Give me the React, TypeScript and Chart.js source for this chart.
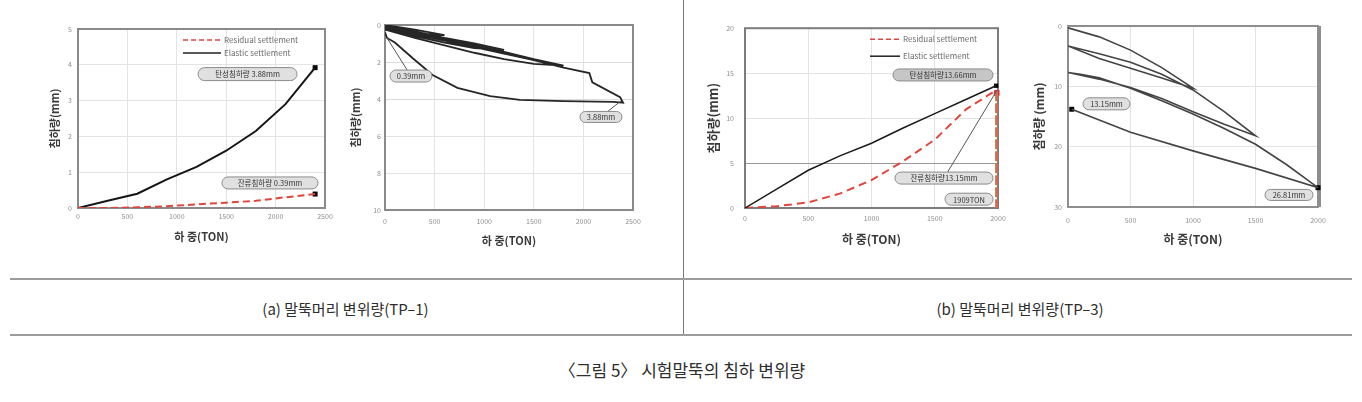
import React, { useEffect, useRef } from "react";
import { Chart, registerables } from "chart.js";

Chart.register(...registerables);

const FONT = "'Noto Sans CJK KR', 'Noto Sans', sans-serif";
Chart.defaults.font.family = FONT;

// ===== (a) TP-1 : elastic / residual settlement =====
const tp1Load = [0, 300, 600, 900, 1200, 1500, 1800, 2100, 2400];
const tp1Elastic = [0, 0.2, 0.4, 0.8, 1.15, 1.6, 2.15, 2.9, 3.92];
const tp1Residual = [0, 0, 0.02, 0.05, 0.1, 0.15, 0.2, 0.3, 0.39];
const tp1MarkLoad = [2400, 2400];
const tp1MarkVal = [3.92, 0.39];

// ===== (a) TP-1 : load-settlement cycles =====
const tp1CycLoad = [
  0, 300, 600, 300, 0,
  300, 600, 900, 1200, 900, 600, 300, 0,
  300, 600, 900, 1200, 1500, 1800, 1500, 1200, 900, 600, 300, 0,
  300, 600, 900, 1200, 1500, 1800, 2060, 2090, 2370, 2400,
  2300, 1800, 1360, 1060, 730, 480, 280, 100, 20, 0,
];
const tp1CycSettle = [
  0, 0.25, 0.55, 0.45, 0.1,
  0.35, 0.7, 1.0, 1.35, 1.25, 0.95, 0.6, 0.15,
  0.4, 0.75, 1.1, 1.45, 1.85, 2.2, 2.1, 1.85, 1.5, 1.1, 0.7, 0.25,
  0.5, 0.85, 1.2, 1.55, 1.9, 2.3, 2.6, 3.1, 3.9, 4.2,
  4.15, 4.12, 4.05, 3.85, 3.4, 2.7, 1.8, 0.95, 0.7, 0.39,
];

// ===== (b) TP-3 : elastic / residual settlement =====
const tp3Load = [0, 250, 500, 750, 1000, 1250, 1500, 1750, 1985];
const tp3Elastic = [0, 2.1, 4.2, 5.8, 7.2, 8.9, 10.5, 12.1, 13.6];
const tp3Residual = [0, 0.2, 0.62, 1.6, 3.1, 5.2, 7.6, 11.0, 13.1];
const tp3DropLoad = [1993, 1993];
const tp3DropVal = [13.0, 0];
const tp3MarkLoad = [1985];
const tp3MarkVal = [13.6];
const tp3RedMarkLoad = [1990];
const tp3RedMarkVal = [12.8];

// ===== (b) TP-3 : load-settlement cycles =====
const tp3CycLoad = [
  0, 250, 500, 750, 1000,
  750, 500, 250, 0,
  250, 500, 750, 1000, 1250, 1500,
  1250, 1000, 750, 500, 250, 0,
  100, 250, 500, 750, 1000, 1250, 1500, 1750, 2000,
  1500, 1000, 500, 30,
];
const tp3CycSettle = [
  0.3, 1.8, 4.0, 6.9, 10.3,
  8.6, 7.0, 5.4, 3.3,
  4.6, 6.0, 8.0, 10.6, 14.2, 18.2,
  16.3, 14.2, 12.0, 10.2, 8.8, 7.7,
  8.0, 8.6, 10.3, 12.4, 14.6, 17.0, 19.6, 23.0, 26.8,
  23.6, 20.7, 17.6, 13.8,
];
const tp3CycMarkLoad = [30, 2000];
const tp3CycMarkVal = [13.8, 26.8];

const xTitle = "하 중(TON)";

function pts(xs: number[], ys: number[]) {
  return xs.map((x, i) => ({ x, y: ys[i] }));
}

type Geo = { l: number; t: number; r: number; b: number; L: number; T: number; R: number; B: number };

function makeDecorPlugin(o: any) {
  return {
    id: "decor",
    beforeDatasetsDraw(chart: any) {
      const { ctx, chartArea: a } = chart;
      if (!o.frame) return;
      ctx.save();
      ctx.strokeStyle = o.frame.color;
      ctx.lineWidth = o.frame.width;
      ctx.strokeRect(a.left, a.top, a.right - a.left, a.bottom - a.top);
      if (o.frame.right) {
        ctx.lineWidth = o.frame.right;
        ctx.beginPath();
        ctx.moveTo(a.right + o.frame.right / 2 - 1, a.top);
        ctx.lineTo(a.right + o.frame.right / 2 - 1, a.bottom);
        ctx.stroke();
      }
      ctx.restore();
    },
    afterDatasetsDraw(chart: any) {
      const { ctx, chartArea: a } = chart;
      const xs = chart.scales.x;
      const ys = chart.scales.y;
      ctx.save();
      if (o.legend) {
        const L = o.legend;
        L.items.forEach((it: any, i: number) => {
          const y = a.top + L.top + i * L.gap;
          const x0 = a.right - L.right;
          ctx.strokeStyle = it.color;
          ctx.lineWidth = it.width;
          ctx.setLineDash(it.dash || []);
          ctx.beginPath();
          ctx.moveTo(x0, y);
          ctx.lineTo(x0 + L.len, y);
          ctx.stroke();
          ctx.setLineDash([]);
          ctx.fillStyle = "#6a6a6a";
          ctx.font = `${L.size}px ${FONT}`;
          ctx.textBaseline = "middle";
          ctx.textAlign = "left";
          ctx.fillText(it.text, x0 + L.len + 3, y);
        });
      }
      (o.notes || []).forEach((n: any) => {
        const cx = xs.getPixelForValue(n.x);
        const cy = ys.getPixelForValue(n.y);
        if (n.tx !== undefined) {
          ctx.strokeStyle = "#555";
          ctx.lineWidth = 1;
          ctx.setLineDash([]);
          ctx.beginPath();
          ctx.moveTo(cx, cy);
          ctx.lineTo(xs.getPixelForValue(n.tx), ys.getPixelForValue(n.ty));
          ctx.stroke();
        }
        const x = cx - n.w / 2;
        const y = cy - n.h / 2;
        ctx.beginPath();
        if ((ctx as any).roundRect) (ctx as any).roundRect(x, y, n.w, n.h, n.h / 2);
        else ctx.rect(x, y, n.w, n.h);
        ctx.fillStyle = n.bg || "#e0e0e0";
        ctx.fill();
        ctx.strokeStyle = "#8c8c8c";
        ctx.lineWidth = 1;
        ctx.stroke();
        ctx.fillStyle = "#333";
        ctx.font = `${n.fs || 7.5}px ${FONT}`;
        ctx.textAlign = "center";
        ctx.textBaseline = "middle";
        ctx.fillText(n.text, cx, cy + 0.5);
      });
      ctx.restore();
    },
  };
}

type AxisSpec = {
  min: number;
  max: number;
  step: number;
  reverse?: boolean;
  title: string;
  titleSize: number;
  tickPad: number;
  strong?: number[];
  strongColor?: string;
};

function axis(s: AxisSpec, kind: "x" | "y", size: number) {
  return {
    type: "linear",
    position: kind === "x" ? "bottom" : "left",
    min: s.min,
    max: s.max,
    reverse: !!s.reverse,
    afterFit: (scale: any) => {
      if (kind === "x") scale.height = size;
      else scale.width = size;
    },
    ticks: {
      stepSize: s.step,
      autoSkip: false,
      maxRotation: 0,
      padding: s.tickPad,
      color: "#8f8f8f",
      font: { size: 7, family: FONT },
      callback: (v: any) => String(v),
    },
    grid: {
      drawTicks: false,
      color: (c: any) => {
        const v = c.tick ? c.tick.value : null;
        if (s.strong && s.strong.indexOf(v) >= 0) return s.strongColor || "#999";
        return "#e3e3e3";
      },
      lineWidth: 1,
    },
    border: { display: false },
    title: {
      display: true,
      text: s.title,
      color: "#3a3a3a",
      padding: 0,
      font: { size: s.titleSize, weight: "bold", family: FONT },
    },
  };
}

function makeConfig(geo: Geo, xs: AxisSpec, ys: AxisSpec, datasets: any[], decor: any) {
  return {
    type: "scatter",
    data: { datasets },
    options: {
      responsive: false,
      maintainAspectRatio: false,
      animation: false,
      events: [],
      layout: { padding: { left: 0, top: geo.T - geo.t, right: geo.r - geo.R, bottom: 0 } },
      plugins: { legend: { display: false }, tooltip: { enabled: false } },
      scales: {
        x: axis(xs, "x", geo.b - geo.B),
        y: axis(ys, "y", geo.L - geo.l),
      },
    },
    plugins: [makeDecorPlugin(decor)],
  };
}

function lineDs(data: any[], color: string, width: number, dash: number[] = []) {
  return {
    data,
    showLine: true,
    borderColor: color,
    borderWidth: width,
    borderDash: dash,
    pointRadius: 0,
    fill: false,
    tension: 0,
  };
}

function markDs(data: any[], color: string, r = 3.5) {
  return {
    data,
    showLine: false,
    pointStyle: "rect",
    pointRadius: r,
    backgroundColor: color,
    borderColor: color,
    borderWidth: 0,
    clip: false,
  };
}

const G1: Geo = { l: 48, t: 17, r: 340, b: 243, L: 78, T: 29, R: 325, B: 208 };
const G2: Geo = { l: 349, t: 13, r: 648, b: 247, L: 385, T: 25, R: 633, B: 210 };
const G3: Geo = { l: 705, t: 13, r: 1012, b: 247, L: 745, T: 25, R: 998, B: 208 };
const G4: Geo = { l: 1032, t: 14, r: 1335, b: 247, L: 1068, T: 26, R: 1318, B: 207 };

function buildConfig(index: number) {
  if (index === 0)
    return makeConfig(
      G1,
      { min: 0, max: 2500, step: 500, title: xTitle, titleSize: 11, tickPad: 4 },
      { min: 0, max: 5, step: 1, title: "침하량(mm)", titleSize: 11, tickPad: 6 },
      [
        lineDs(pts(tp1Load, tp1Residual), "#e2453c", 2, [7, 4]),
        lineDs(pts(tp1Load, tp1Elastic), "#151515", 2),
        markDs(pts(tp1MarkLoad, tp1MarkVal), "#000", 3.5),
      ],
      {
        frame: { color: "#8a8a8a", width: 2 },
        legend: {
          top: 11,
          gap: 13,
          right: 142,
          len: 38,
          size: 8,
          items: [
            { text: "Residual settlement", color: "#e2453c", width: 1.5, dash: [5, 3] },
            { text: "Elastic settlement", color: "#222", width: 1.5 },
          ],
        },
        notes: [
          { x: 1716, y: 3.74, text: "탄성침하량 3.88mm", w: 99, h: 13 },
          { x: 1943, y: 0.7, text: "잔류침하량 0.39mm", w: 96, h: 12 },
        ],
      }
    );
  if (index === 1)
    return makeConfig(
      G2,
      { min: 0, max: 2500, step: 500, title: xTitle, titleSize: 11, tickPad: 7 },
      { min: 0, max: 10, step: 2, reverse: true, title: "침하량(mm)", titleSize: 11, tickPad: 4, strong: [2, 4], strongColor: "#dcdcdc" },
      [lineDs(pts(tp1CycLoad, tp1CycSettle), "#262626", 1.8)],
      {
        frame: { color: "#8a8a8a", width: 2 },
        notes: [
          { x: 262, y: 2.76, text: "0.39mm", w: 42, h: 12, tx: 20, ty: 0.7 },
          { x: 2177, y: 4.97, text: "3.88mm", w: 42, h: 11, tx: 2379, ty: 4.1 },
        ],
      }
    );
  if (index === 2)
    return makeConfig(
      G3,
      { min: 0, max: 2000, step: 500, title: xTitle, titleSize: 12, tickPad: 6 },
      { min: 0, max: 20, step: 5, title: "침하량(mm)", titleSize: 13, tickPad: 11, strong: [5], strongColor: "#9a9a9a" },
      [
        lineDs(pts(tp3Load, tp3Elastic), "#1a1a1a", 1.5),
        lineDs(pts(tp3Load, tp3Residual), "#e2453c", 2, [8, 5]),
        lineDs(pts(tp3DropLoad, tp3DropVal), "#cf6d4e", 4, [10, 2]),
        markDs(pts(tp3RedMarkLoad, tp3RedMarkVal), "#d8323a", 4),
        markDs(pts(tp3MarkLoad, tp3MarkVal), "#000", 3),
      ],
      {
        frame: { color: "#7c7c7c", width: 2 },
        legend: {
          top: 11,
          gap: 17,
          right: 128,
          len: 30,
          size: 8,
          items: [
            { text: "Residual settlement", color: "#e2453c", width: 1.5, dash: [5, 3] },
            { text: "Elastic settlement", color: "#222", width: 1.5 },
          ],
        },
        notes: [
          { x: 1565, y: 14.8, text: "탄성침하량13.66mm", w: 100, h: 12, bg: "#c6c6c6" },
          { x: 1573, y: 3.33, text: "잔류침하량13.15mm", w: 98, h: 12, tx: 1992, ty: 13.1 },
          { x: 1771, y: 0.98, text: "1909TON", w: 48, h: 12 },
        ],
      }
    );
  return makeConfig(
    G4,
    { min: 0, max: 2000, step: 500, title: xTitle, titleSize: 12, tickPad: 9 },
    { min: 0, max: 30, step: 10, reverse: true, title: "침하량 (mm)", titleSize: 12, tickPad: 6 },
    [
      lineDs(pts(tp3CycLoad, tp3CycSettle), "#444", 1.6),
      markDs(pts(tp3CycMarkLoad, tp3CycMarkVal), "#000", 3.5),
    ],
    {
      frame: { color: "#8e8e8e", width: 2, right: 4 },
      notes: [
        { x: 308, y: 12.9, text: "13.15mm", w: 47, h: 12 },
        { x: 1768, y: 28.0, text: "26.81mm", w: 48, h: 11 },
      ],
    }
  );
}

function ChartBox({ geo, index }: { geo: Geo; index: number }) {
  const ref = useRef<HTMLCanvasElement | null>(null);
  useEffect(() => {
    if (!ref.current) return;
    const chart = new Chart(ref.current, buildConfig(index) as any);
    return () => chart.destroy();
  }, [index]);
  const w = geo.r - geo.l;
  const h = geo.b - geo.t;
  return (
    <canvas
      ref={ref}
      width={w}
      height={h}
      style={{ position: "absolute", left: geo.l, top: geo.t, width: w, height: h }}
    />
  );
}

function Label({ cx, cy, size, children }: { cx: number; cy: number; size: number; children: any }) {
  return (
    <div
      style={{
        position: "absolute",
        left: cx - 250,
        top: cy - 12,
        width: 500,
        height: 24,
        lineHeight: "24px",
        textAlign: "center",
        fontSize: size,
        color: "#2e2e2e",
        fontFamily: FONT,
        whiteSpace: "nowrap",
      }}
    >
      {children}
    </div>
  );
}

export default function App() {
  return (
    <div
      style={{
        position: "absolute",
        left: 0,
        top: 0,
        width: 1362,
        height: 402,
        background: "#fff",
        overflow: "hidden",
      }}
    >
      <ChartBox geo={G1} index={0} />
      <ChartBox geo={G2} index={1} />
      <ChartBox geo={G3} index={2} />
      <ChartBox geo={G4} index={3} />
      <div style={{ position: "absolute", left: 683, top: 0, width: 1, height: 336, background: "#777" }} />
      <div style={{ position: "absolute", left: 10, top: 278, width: 1342, height: 2, background: "#9c9c9c" }} />
      <div style={{ position: "absolute", left: 10, top: 334, width: 1342, height: 2, background: "#9c9c9c" }} />
      <Label cx={345.5} cy={308.5} size={15}>(a) 말뚝머리 변위량(TP–1)</Label>
      <Label cx={1020} cy={308.5} size={15}>(b) 말뚝머리 변위량(TP–3)</Label>
      <Label cx={682} cy={370} size={17}>〈그림 5〉 시험말뚝의 침하 변위량</Label>
    </div>
  );
}
